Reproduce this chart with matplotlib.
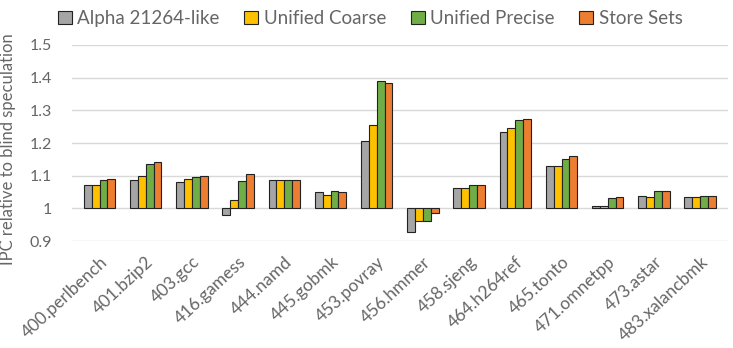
import numpy as np
import matplotlib.pyplot as plt

plt.rcParams['font.family'] = ['Lato', 'DejaVu Sans']

benchmarks = ["400.perlbench", "401.bzip2", "403.gcc", "416.gamess", "444.namd",
              "445.gobmk", "453.povray", "456.hmmer", "458.sjeng", "464.h264ref",
              "465.tonto", "471.omnetpp", "473.astar", "483.xalancbmk"]

alpha = [1.072, 1.087, 1.082, 0.979, 1.087, 1.050, 1.207, 0.929, 1.064, 1.234, 1.129, 1.008, 1.039, 1.035]
coarse = [1.072, 1.100, 1.091, 1.027, 1.087, 1.040, 1.255, 0.963, 1.061, 1.247, 1.131, 1.008, 1.036, 1.035]
precise = [1.088, 1.137, 1.095, 1.083, 1.087, 1.053, 1.389, 0.963, 1.072, 1.271, 1.151, 1.032, 1.054, 1.039]
storesets = [1.090, 1.141, 1.100, 1.104, 1.087, 1.050, 1.384, 0.987, 1.072, 1.272, 1.159, 1.036, 1.054, 1.039]

series = [("Alpha 21264-like", alpha, "#A5A5A5"),
          ("Unified Coarse", coarse, "#FFC000"),
          ("Unified Precise", precise, "#70AD47"),
          ("Store Sets", storesets, "#ED7D31")]

txt = "#666666"

fig = plt.figure(figsize=(7.33, 3.48), dpi=100)
ax = fig.add_axes([0.098, 0.307, 0.895, 0.564])

x = np.arange(len(benchmarks))
w = 0.17
for i, (name, vals, col) in enumerate(series):
    vals = np.array(vals)
    ax.bar(x + (i - 1.5) * w, vals - 1.0, w, bottom=1.0, color=col,
           edgecolor="#222222", linewidth=0.8, label=name, zorder=3)

ax.set_ylim(0.9, 1.5)
ax.set_xlim(-0.6, len(benchmarks) - 0.4)
ax.set_yticks([0.9, 1.0, 1.1, 1.2, 1.3, 1.4, 1.5])
ax.set_yticklabels(["0.9", "1", "1.1", "1.2", "1.3", "1.4", "1.5"])
ax.yaxis.grid(True, color="#D9D9D9", linewidth=1.0, zorder=0)
for s in ax.spines.values():
    s.set_visible(False)
ax.tick_params(axis='both', length=0, colors=txt)
ax.tick_params(axis='y', pad=14, labelsize=11.5)
ax.tick_params(axis='x', pad=9, labelsize=12.5)
ax.set_xticks(x)
ax.set_xticklabels(benchmarks, rotation=43, ha='right', rotation_mode='anchor')
ax.set_ylabel("IPC relative to blind speculation", color=txt, fontsize=12)
ax.yaxis.set_label_coords(-0.085, 0.47)

fig.legend(loc='upper center', bbox_to_anchor=(0.505, 1.02), ncol=4, frameon=False,
           fontsize=13.5, handlelength=0.75, handleheight=0.75, columnspacing=1.3,
           handletextpad=0.3, labelcolor=txt)

fig.savefig("out.png", dpi=100)
